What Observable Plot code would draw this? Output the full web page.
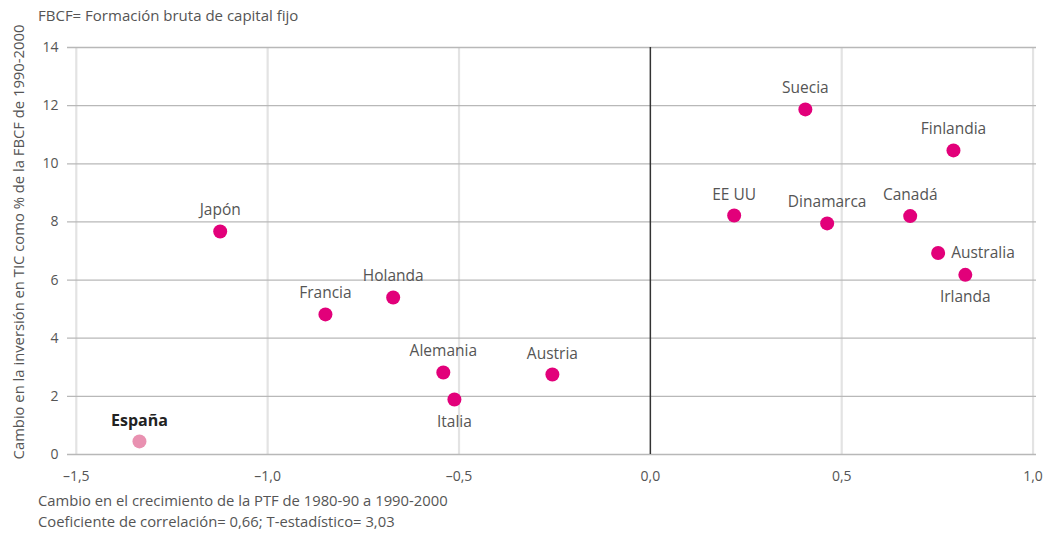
<!DOCTYPE html>
<html>
<head>
<meta charset="utf-8">
<script src="https://cdn.jsdelivr.net/npm/d3@7"></script>
<script src="https://cdn.jsdelivr.net/npm/@observablehq/plot@0.6"></script>
<style>
  body { margin: 0; background: #fff; font-family: "Open Sans", sans-serif; }
  #wrap { position: relative; width: 1047px; height: 536px; }
  #title { position: absolute; left: 38px; top: 5px; font-size: 15px; color: #555; }
  #caption { margin-left: 38px; margin-top: 0px; font-size: 14.8px; line-height: 20.5px; color: #555; }
</style>
</head>
<body>
<div id="wrap">
  <div id="chart"></div>
  <div id="title">FBCF= Formación bruta de capital fijo</div>
  <div id="caption">Cambio en el crecimiento de la PTF de 1980-90 a 1990-2000<br>Coeficiente de correlación= 0,66; T-estadístico= 3,03</div>
</div>
<script>
const countries = ["España","Japón","Francia","Holanda","Alemania","Italia","Austria","EE UU","Suecia","Dinamarca","Canadá","Finlandia","Australia","Irlanda"];
const ptfChange = [-1.335,-1.124,-0.849,-0.672,-0.541,-0.512,-0.256,0.219,0.405,0.462,0.679,0.792,0.752,0.823];
const ticInvest = [0.45,7.67,4.82,5.40,2.82,1.89,2.75,8.22,11.87,7.95,8.20,10.46,6.93,6.18];
const labelPos = ["top","top","top","top","top","bottom","top","top","top","top","top","top","right","bottom"];
const xTicks = [-1.5,-1.0,-0.5,0.0,0.5,1.0];
const yTicks = [0,2,4,6,8,10,12,14];
const yLabel = "Cambio en la inversión en TIC como % de la FBCF de 1990-2000";

const data = countries.map((c, i) => ({country: c, x: ptfChange[i], y: ticInvest[i], pos: labelPos[i], spain: c === "España"}));
const fmt = d => d.toFixed(1).replace(".", ",").replace("-", "–");

const chart = Plot.plot({
  width: 1047,
  height: 490,
  marginLeft: 67,
  marginRight: 11,
  marginTop: 47,
  marginBottom: 36,
  style: {fontFamily: "'Open Sans', sans-serif", color: "#555", background: "#fff"},
  x: {domain: [-1.523, 1.009]},
  y: {domain: [0, 14]},
  marks: [
    Plot.ruleX(xTicks.filter(d => d !== 0), {stroke: "#e3e3e3", strokeWidth: 2.2}),
    Plot.ruleY(yTicks, {stroke: "#b8b8b8", strokeWidth: 1.3}),
    Plot.ruleX([0], {stroke: "#333", strokeWidth: 1.5}),
    Plot.axisX({ticks: xTicks, tickSize: 0, tickPadding: 17, tickFormat: fmt, fontSize: 14, label: null}),
    Plot.axisY({ticks: yTicks, tickSize: 0, tickPadding: 9, fontSize: 14, label: null}),
    Plot.text([yLabel], {frameAnchor: "left", textAnchor: "middle", rotate: -90, dx: -48, dy: -9, fontSize: 14.8, fill: "#555"}),
    Plot.dot(data, {x: "x", y: "y", r: 7, fill: d => d.spain ? "#e991b1" : "#e2007a", stroke: null}),
    Plot.text(data.filter(d => d.pos === "top" && !d.spain), {x: "x", y: "y", text: "country", dy: -21, fontSize: 15.5, fill: "#555"}),
    Plot.text(data.filter(d => d.pos === "bottom"), {x: "x", y: "y", text: "country", dy: 22, fontSize: 15.5, fill: "#555"}),
    Plot.text(data.filter(d => d.pos === "right"), {x: "x", y: "y", text: "country", dx: 13, textAnchor: "start", fontSize: 15.5, fill: "#555"}),
    Plot.text(data.filter(d => d.spain), {x: "x", y: "y", text: "country", dy: -21, fontSize: 16, fontWeight: "bold", fill: "#222"})
  ]
});
document.getElementById("chart").appendChild(chart);
</script>
</body>
</html>
